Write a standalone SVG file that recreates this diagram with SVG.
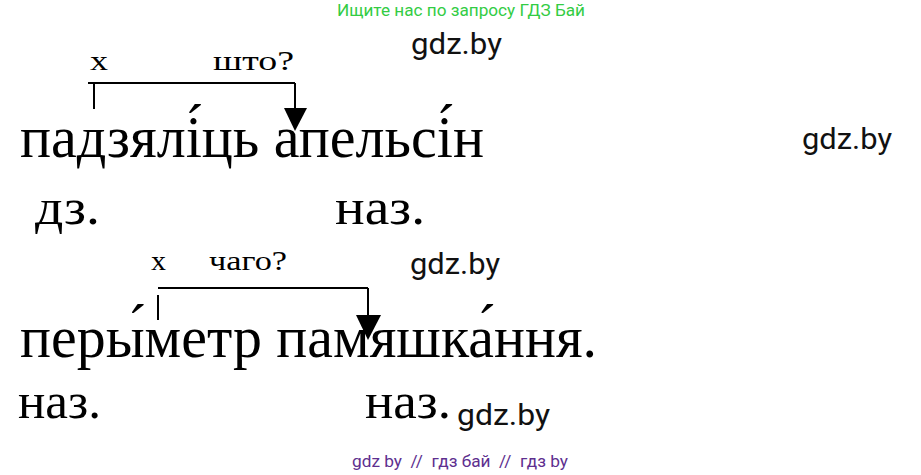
<svg xmlns="http://www.w3.org/2000/svg" width="921" height="475" viewBox="0 0 921 475">
<style>
.big{font-family:"Liberation Serif","Times New Roman",serif;font-size:60px;fill:#000}
.mid{font-family:"Liberation Serif","Times New Roman",serif;font-size:50px;fill:#000}
.sm{font-family:"Liberation Serif","Times New Roman",serif;font-size:27px;fill:#000}
.wm{font-family:Roboto,"Noto Sans",sans-serif;font-size:29px;fill:#111}
.green{font-family:Roboto,"Noto Sans",sans-serif;font-size:17px;fill:#33cc44}
.purple{font-family:Roboto,"Noto Sans",sans-serif;font-size:17px;fill:#5e2f8f}
.ln{stroke:#000;stroke-width:2;fill:none}
.ah{fill:#000}
</style>
<rect width="921" height="475" fill="#fff"/>
<g id="watermarks">
<text class="green" x="337" y="16" textLength="248" lengthAdjust="spacingAndGlyphs">Ищите нас по запросу ГДЗ Бай</text>
<text class="wm" x="411" y="54" textLength="91" lengthAdjust="spacingAndGlyphs">gdz.by</text>
<text class="wm" x="802" y="149" textLength="90" lengthAdjust="spacingAndGlyphs">gdz.by</text>
<text class="wm" x="410" y="274" textLength="90" lengthAdjust="spacingAndGlyphs">gdz.by</text>
<text class="wm" x="457" y="425" textLength="93" lengthAdjust="spacingAndGlyphs">gdz.by</text>
<text class="purple" x="352" y="467" textLength="216" lengthAdjust="spacingAndGlyphs" xml:space="preserve">gdz by  //  гдз бай  //  гдз by</text>
</g>
<g id="sentence1">
<text class="big" x="20" y="157" textLength="464" lengthAdjust="spacingAndGlyphs">падзялі́ць апельсі́н</text>
</g>
<g id="labels1">
<text class="sm" x="90" y="70" textLength="18" lengthAdjust="spacingAndGlyphs">х</text>
<text class="sm" x="213" y="70" textLength="81" lengthAdjust="spacingAndGlyphs">што?</text>
</g>
<g id="parts1">
<text class="mid" x="35" y="224" textLength="65" lengthAdjust="spacingAndGlyphs">дз.</text>
<text class="mid" x="335" y="224" textLength="90" lengthAdjust="spacingAndGlyphs">наз.</text>
</g>
<g id="sentence2">
<text class="big" x="20" y="357" textLength="577" lengthAdjust="spacingAndGlyphs">перы́метр памяшка́ння.</text>
</g>
<g id="labels2">
<text class="sm" x="151" y="270" textLength="15" lengthAdjust="spacingAndGlyphs">х</text>
<text class="sm" x="209" y="270" textLength="78" lengthAdjust="spacingAndGlyphs">чаго?</text>
</g>
<g id="parts2">
<text class="mid" x="18" y="418" textLength="83" lengthAdjust="spacingAndGlyphs">наз.</text>
<text class="mid" x="365" y="418" textLength="86" lengthAdjust="spacingAndGlyphs">наз.</text>
</g>
<g id="connectors">
<path class="ln" d="M94 109 V83 M88 83 H295 M295 83 V109"/>
<polygon class="ah" points="284,108 307,108 295,131"/>
<path class="ln" d="M158 295 V320 M158 288 H368 M368 288 V316"/>
<polygon class="ah" points="356,315 381,315 368,340"/>
</g>
</svg>
